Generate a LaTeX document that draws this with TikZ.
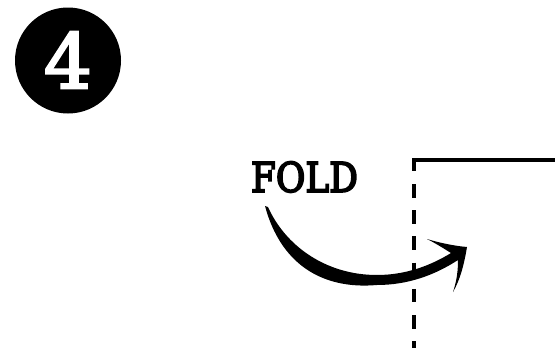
\documentclass[tikz,border=0pt]{standalone}
\usepackage{fontspec}
\setmainfont{DejaVu Serif}
\font\medfold="DejaVu Serif:embolden=4.5" at 41pt
\font\meddigit="DejaVu Serif:embolden=3" at 76pt
\begin{document}
\begin{tikzpicture}[x=1pt,y=-1pt,
 lbl/.style={font=\medfold,text=black,inner sep=0pt,xscale=0.875,transform shape},
 foldline/.style={line width=4pt}]
\useasboundingbox (0,0) rectangle (555,348);
\node[circle,fill=black,minimum size=106pt,inner sep=0pt] (num) at (68,60.5) {};
\node[text=white,inner sep=0pt,font=\meddigit] (digit) at (68,60) {4};
\node[lbl] (fold) at (304.5,177) {FOLD};
\coordinate (edge) at (555,159.5);
\coordinate (corner) at (414.3,159.5);
\coordinate (dashstart) at (414.3,171);
\coordinate (dashtop) at (414.3,184);
\coordinate (dashend) at (414.3,348);
\draw[foldline] (edge) -- (corner) -- (dashstart);
\draw[foldline,dash pattern=on 13.5pt off 12.7pt] (dashtop) -- (dashend);
\fill (268,207) .. controls (285,245) and (325,275) .. (377,275)
 .. controls (405,275) and (430,266) .. (451,253)
 .. controls (443,248) and (435,243) .. (427,239)
 .. controls (440,243) and (455,246) .. (467,247)
 .. controls (464,265) and (460,280) .. (453,292)
 .. controls (457,280) and (458,270) .. (458,260)
 .. controls (435,275) and (408,285) .. (377,285)
 .. controls (320,290) and (280,262) .. (265,206) -- cycle;
\end{tikzpicture}
\end{document}
